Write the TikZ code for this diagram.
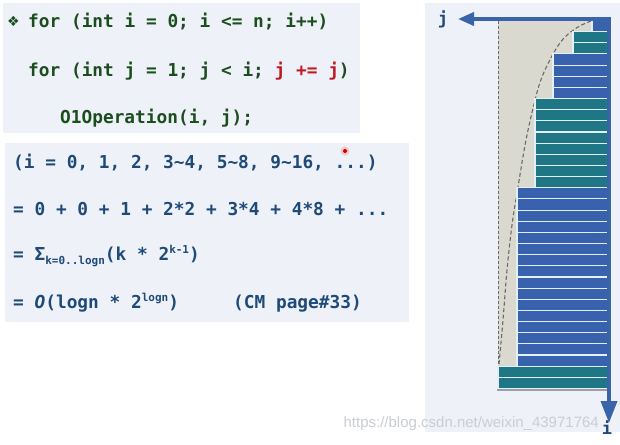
\documentclass[tikz,border=0pt]{standalone}
\usepackage{fontspec}
\setmainfont{DejaVu Sans}
\newfontfamily\codefont{DejaVu Sans Mono}
\newfontfamily\wmfont{Liberation Sans}
\usetikzlibrary{arrows.meta}
\definecolor{panelbg}{HTML}{EEF2F8}
\definecolor{codegreen}{HTML}{1B4D1E}
\definecolor{codered}{HTML}{C01A20}
\definecolor{mathblue}{HTML}{1F4A78}
\definecolor{barblue}{HTML}{3862AE}
\definecolor{barteal}{HTML}{1F7785}
\definecolor{areagrey}{HTML}{DAD9CF}
\definecolor{axisblue}{HTML}{3A64AA}
\definecolor{curvegrey}{HTML}{6A6A6A}
\definecolor{wmgrey}{HTML}{C9CDD4}
\definecolor{barsep}{HTML}{E4EEF6}
\definecolor{shadowgrey}{HTML}{9A9EA6}
\newcommand\subtxt[1]{\raisebox{-4pt}{\fontsize{11}{12}\selectfont #1}}
\newcommand\suptxt[1]{\raisebox{7pt}{\fontsize{11}{12}\selectfont #1}}
\tikzset{
  panel/.style={fill=panelbg, draw=none},
  codeline/.style={anchor=base west, inner sep=0pt, text=codegreen,
    font=\codefont\bfseries\fontsize{17.8}{20}\selectfont},
  mathline/.style={codeline, text=mathblue},
  barbox/.style={draw=barsep, line width=1.1pt},
  axisline/.style={draw=axisblue, line width=3.6pt},
  axislabel/.style={inner sep=0pt, text=mathblue,
    font=\codefont\bfseries\fontsize{17}{19}\selectfont},
  watermark/.style={anchor=base east, inner sep=0pt, text=wmgrey,
    font=\wmfont\fontsize{15}{17}\selectfont},
}
\begin{document}
\begin{tikzpicture}[x=1pt,y=-1pt]
\useasboundingbox (0,0) rectangle (620,444);
\fill[white] (0,0) rectangle (620,444);
% panels
\fill[panel] (3,3) rectangle (360,133);
\fill[panel] (5,143) rectangle (409,322);
\fill[panel] (425,3) rectangle (620,432);
% code
\node[codeline, font=\fontsize{14}{16}\selectfont] (bullet) at (7,27) {❖};
\node[codeline] (c1) at (28,28) {for (int i = 0; i <= n; i++)};
\node[codeline] (c2) at (28,76) {for (int j = 1; j < i; \textcolor{codered}{j += j})};
\node[codeline] (c3) at (60,123) {O1Operation(i, j);};
% math
\node[mathline] (m1) at (13,168) {(i = 0, 1, 2, 3\textasciitilde 4, 5\textasciitilde 8, 9\textasciitilde 16, ...)};
\node[mathline] (m2) at (13,215) {= 0 + 0 + 1 + 2*2 + 3*4 + 4*8 + ...};
\node[mathline] (m3) at (13,260) {= Σ\subtxt{k=0..logn}(k * 2\suptxt{k-1})};
\node[mathline] (m4) at (13,308) {= {\itshape O}(logn * 2\suptxt{logn})};
\node[mathline] (m5) at (233,308) {(CM page\#33)};
% cursor dot
\fill[red!30, opacity=0.7] (345,151) circle (4.5pt);
\fill[red!80!black] (345,151) circle (2pt);
% grey area
\fill[areagrey] (498,20.5) rectangle (608,366);
\draw[curvegrey, dash pattern=on 3pt off 2pt, line width=0.9pt] (498,21) -- (498,366);
\draw[curvegrey, dash pattern=on 4pt off 2.5pt, line width=1.1pt]
  plot[smooth, tension=0.6] coordinates {(591,21) (578,27) (564,38) (553,54) (542,77) (535,100) (526,140) (518,187) (512,225) (507,270) (503,320) (499,364)};
% bar shadows
\fill[shadowgrey] (496.5,366) rectangle (608,390.5);
% bars
\foreach \first/\last/\lx/\col in {1/1/592/barblue, 2/3/573/barteal, 4/7/553/barblue, 8/15/535/barteal, 16/31/517/barblue, 32/33/498/barteal}{
  \foreach \r in {\first,...,\last}{
    \path[barbox, fill=\col] (\lx,{20.5+(\r-1)*11.15}) rectangle (608,{20.5+\r*11.15});
  }
}
% axes
\coordinate (corner) at (609,17.2);
\coordinate (origin) at (610.8,19);
\coordinate (jtip) at (458,19);
\coordinate (itip) at (609,423);
\draw[axisline, -{Triangle[length=16pt,width=13pt]}] (origin) -- (jtip);
\draw[axisline, -{Triangle[length=22pt,width=16pt]}] (corner) -- (itip);
\node[axislabel] (jlab) at (443,19) {j};
\node[watermark] (wm) at (599,427) {https://blog.csdn.net/weixin\_43971764};
\node[axislabel] (ilab) at (607,428) {i};
\end{tikzpicture}
\end{document}
